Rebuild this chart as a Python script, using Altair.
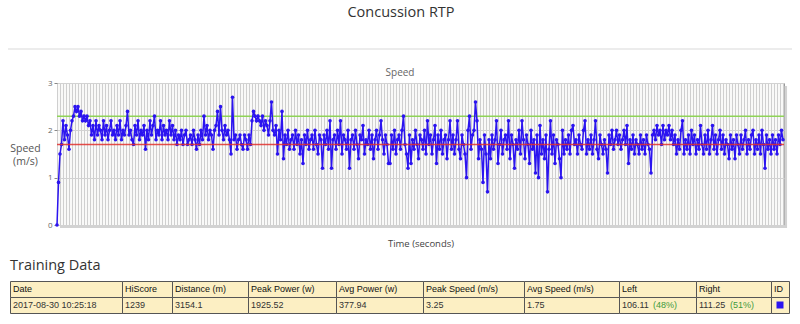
import altair as alt
import pandas as pd

# ---------------- data ----------------
speed = [
    0.0, 0.9, 1.5, 1.7, 2.2, 1.8, 2.1, 1.9, 1.6, 2.0,
    2.2, 2.3, 2.5, 2.4, 2.5, 2.3, 2.4, 2.2, 2.3, 2.2,
    2.3, 2.1, 2.2, 1.9, 2.1, 1.8, 2.2, 1.9, 2.1, 2.0,
    1.8, 2.2, 1.9, 2.1, 1.8, 2.0, 2.2, 1.9, 2.0, 1.8,
    2.1, 1.9, 2.2, 1.8, 2.0, 1.9, 2.1, 2.4, 1.9, 2.0,
    1.8, 1.7, 2.1, 1.9, 2.2, 1.8, 2.0, 1.9, 2.1, 1.6,
    2.0, 1.8, 2.2, 1.9, 2.1, 2.3, 1.8, 2.0, 1.9, 2.2,
    1.8, 2.1, 1.9, 2.0, 1.8, 2.2, 1.9, 2.1, 1.8, 2.0,
    1.7, 1.9, 1.8, 2.0, 1.7, 1.9, 2.0, 1.7, 1.8, 1.9,
    1.7, 2.0, 1.8, 1.6, 1.9, 1.7, 2.0, 1.8, 2.3, 1.9,
    2.1, 1.8, 2.0, 1.9, 1.6, 2.0, 2.1, 2.4, 1.9, 2.5,
    2.0, 1.8, 2.1, 1.9, 2.0, 1.8, 1.5, 2.7, 1.8, 1.9,
    1.6, 1.8, 1.9, 1.7, 1.6, 1.9, 1.8, 1.6, 1.9, 1.7,
    2.2, 2.4, 2.3, 2.2, 2.3, 2.2, 2.1, 2.3, 2.0, 2.2,
    2.1, 1.9, 2.2, 2.6, 2.0, 1.9, 2.1, 1.5, 2.0, 1.8,
    2.4, 1.4, 1.9, 1.7, 2.0, 1.6, 1.8, 1.9, 1.6, 2.0,
    1.7, 1.9, 1.5, 1.8, 1.3, 1.9, 1.7, 2.0, 1.6, 1.8,
    1.9, 1.6, 2.0, 1.7, 1.5, 1.9, 1.8, 1.2, 1.9, 1.7,
    2.0, 1.6, 2.2, 1.2, 1.8, 1.9, 1.6, 2.0, 1.7, 2.2,
    1.5, 1.9, 1.8, 1.6, 2.0, 1.2, 1.8, 1.9, 1.6, 2.0,
    1.7, 1.4, 1.9, 1.8, 2.1, 1.5, 1.8, 1.7, 2.0, 1.6,
    1.9, 1.4, 1.8, 2.0, 1.6, 1.9, 2.2, 1.8, 1.5, 1.9,
    1.7, 1.3, 1.3, 1.9, 1.6, 2.0, 1.5, 1.8, 1.9, 1.6,
    2.0, 2.3, 1.7, 1.5, 1.2, 1.9, 1.3, 1.8, 1.6, 2.0,
    1.7, 1.4, 1.9, 1.8, 1.6, 2.0, 1.5, 2.2, 1.7, 1.9,
    1.5, 1.8, 2.1, 1.3, 1.9, 1.6, 2.0, 1.5, 1.8, 1.9,
    1.4, 1.8, 2.2, 1.6, 1.9, 1.5, 1.8, 2.2, 1.6, 1.4,
    1.9, 1.7, 1.5, 1.0, 2.0, 2.3, 1.6, 1.9, 2.0, 2.6,
    2.2, 1.4, 1.8, 1.6, 0.9, 1.9, 1.5, 0.7, 1.8, 1.4,
    1.9, 1.6, 1.8, 2.2, 1.3, 1.7, 2.0, 1.5, 1.8, 1.9,
    1.6, 2.2, 1.4, 1.9, 1.7, 1.2, 1.8, 1.6, 2.0, 1.5,
    2.2, 1.8, 1.4, 1.9, 1.7, 1.3, 2.0, 1.6, 1.8, 1.1,
    1.9, 1.0, 2.1, 1.5, 1.8, 1.4, 1.9, 0.7, 1.6, 2.2,
    1.5, 1.9, 1.3, 1.8, 1.7, 1.4, 1.0, 2.0, 1.5, 1.8,
    1.6, 1.9, 1.5, 2.0, 2.1, 1.7, 1.8, 1.5, 1.9, 1.7,
    1.6, 2.0, 2.2, 1.5, 1.8, 1.6, 1.9, 1.5, 1.8, 2.2,
    1.6, 1.4, 1.9, 1.7, 1.5, 1.8, 1.6, 1.1, 1.9, 1.7,
    2.0, 1.6, 1.8, 2.0, 1.7, 1.9, 1.6, 1.8, 2.0, 1.7,
    2.1, 1.3, 1.8, 1.6, 1.9, 1.5, 1.8, 1.7, 1.5, 1.9,
    1.6, 1.8, 1.5, 1.9, 1.7, 1.6, 1.1, 1.9, 2.0, 1.8,
    2.1, 1.9, 2.0, 1.7, 2.1, 1.8, 2.0, 1.9, 2.1, 1.8,
    2.0, 1.7, 1.9, 1.5, 1.8, 1.6, 2.0, 2.2, 1.5, 1.8,
    1.6, 1.9, 1.5, 2.0, 1.7, 1.9, 1.5, 1.8, 1.6, 2.1,
    1.7, 1.5, 1.9, 1.6, 2.0, 1.5, 1.8, 2.1, 1.6, 1.9,
    1.5, 1.8, 2.0, 1.6, 1.9, 1.5, 1.8, 1.7, 1.4, 1.9,
    1.6, 1.8, 1.4, 1.9, 1.7, 1.5, 1.9, 1.6, 1.8, 2.0,
    1.5, 1.8, 1.6, 1.9, 2.0, 1.5, 1.8, 1.6, 1.9, 1.5,
    2.0, 1.7, 1.2, 1.9, 1.6, 1.8, 1.5, 1.9, 1.6, 1.8,
    1.5, 1.9, 1.7, 2.0, 1.8,
]
sample_seconds = 4
times = [i * sample_seconds for i in range(len(speed))]
upper_threshold = [2.3]
lower_threshold = [1.7]
y_ticks = [0, 0.5, 1, 1.5, 2, 2.5, 3]

table_headers = ["Date", "HiScore", "Distance (m)", "Peak Power (w)", "Avg Power (w)",
                 "Peak Speed (m/s)", "Avg Speed (m/s)", "Left", "Right", "ID"]
table_values = ["2017-08-30 10:25:18", "1239", "3154.1", "1925.52", "377.94",
                "3.25", "1.75", "106.11", "111.25", ""]
table_share = ["", "", "", "", "", "", "", "(48%)", "(51%)", ""]

# ---------------- layout (page pixels) ----------------
PL, PT, PW, PH = 57, 83, 727, 142
col_edges = [10, 122, 172, 248, 336, 423, 524, 619, 696, 771, 789]
row_edges = [281, 297, 313]
share_offset = 34
BLUE = "#2b14f0"
px_per_sample = 1.5
grid_px = 3

def rx(px):
    return px - PL

def ry(py):
    return py - PT

x_dom = PW * sample_seconds / px_per_sample
x_scale = alt.Scale(domain=[0, x_dom], nice=False, zero=False)
y_scale = alt.Scale(domain=[0, 3], nice=False, zero=False)
grid_step = grid_px * sample_seconds / px_per_sample
grid_vals = [k * grid_step for k in range(int(x_dom / grid_step) + 1)]

one = pd.DataFrame({"_": [0]})
df = pd.DataFrame({"t": times, "speed": speed})

line = alt.Chart(df).mark_line(
    color=BLUE, strokeWidth=1.5,
    point=alt.OverlayMarkDef(color=BLUE, filled=True, size=13, opacity=1),
).encode(
    x=alt.X("t:Q", scale=x_scale, axis=alt.Axis(
        values=grid_vals, labels=False, ticks=False, domain=False, grid=True,
        gridColor="#cfcfcf", gridWidth=1, title="Time (seconds)",
        titleFont="Open Sans", titleFontSize=9.5, titleFontWeight="normal",
        titleColor="#444", titlePadding=13)),
    y=alt.Y("speed:Q", scale=y_scale, axis=alt.Axis(
        values=y_ticks, format="~g", grid=True, gridColor="#d2d2d2",
        labelFont="Open Sans", labelFontSize=8, labelColor="#666",
        tickColor="#888", tickSize=3, labelPadding=2, domain=False,
        title=["Speed", "(m/s)"], titleFont="Open Sans", titleFontSize=10.5,
        titleLineHeight=13, titleFontWeight="normal", titleColor="#555", titleAngle=0,
        titleAlign="center", titleBaseline="middle", titleX=rx(25), titleY=65)),
)

green = alt.Chart(pd.DataFrame({"v": upper_threshold})).mark_rule(
    color="#8fd457", strokeWidth=1.5).encode(y=alt.Y("v:Q", scale=y_scale))
red = alt.Chart(pd.DataFrame({"v": lower_threshold})).mark_rule(
    color="#e2302b", strokeWidth=1.5, opacity=0.85).encode(y=alt.Y("v:Q", scale=y_scale))

shadow_r = alt.Chart(one).mark_rule(color="#d2d2d2", strokeWidth=2.5).encode(
    x=alt.value(PW + 1.8), y=alt.value(3), y2=alt.value(PH + 3))
shadow_b = alt.Chart(one).mark_rule(color="#d2d2d2", strokeWidth=2.5).encode(
    x=alt.value(3), x2=alt.value(PW + 3), y=alt.value(PH + 1.8))

separator = alt.Chart(one).mark_rule(color="#ececec", strokeWidth=2).encode(
    x=alt.value(rx(8)), x2=alt.value(rx(792)), y=alt.value(ry(49)))

title_main = alt.Chart(one).mark_text(
    text="Concussion RTP", font="Open Sans", fontSize=14.5, color="#333",
    align="center", baseline="middle").encode(x=alt.value(rx(401)), y=alt.value(ry(12.5)))
title_sub = alt.Chart(one).mark_text(
    text="Speed", font="Open Sans", fontSize=10, color="#666",
    align="center", baseline="middle").encode(x=alt.value(rx(400)), y=alt.value(ry(72.5)))
title_table = alt.Chart(one).mark_text(
    text="Training Data", font="Open Sans", fontSize=14.5, color="#333",
    align="left", baseline="middle").encode(x=alt.value(rx(10)), y=alt.value(ry(266)))

# table cells
cells = []
texts = []
for r, row in enumerate([table_headers, table_values]):
    for c, label in enumerate(row):
        cells.append({"x0": rx(col_edges[c]) + 0.5, "x1": rx(col_edges[c + 1]) + 0.5,
                      "y0": ry(row_edges[r]) + 0.5, "y1": ry(row_edges[r + 1]) + 0.5})
        texts.append({"x": rx(col_edges[c]) + 3, "y": ry((row_edges[r] + row_edges[r + 1]) / 2),
                      "label": label, "kind": "header" if r == 0 else "value"})
shares = [{"x": rx(col_edges[c]) + share_offset,
           "y": ry((row_edges[1] + row_edges[2]) / 2), "label": s}
          for c, s in enumerate(table_share) if s]
id_cell = [{"x": rx((col_edges[9] + col_edges[10]) / 2), "y": ry((row_edges[1] + row_edges[2]) / 2)}]

cell_layer = alt.Chart(pd.DataFrame(cells)).mark_rect(
    fill="#fcefc3", stroke="#555", strokeWidth=1).encode(
    x=alt.X("x0:Q", scale=None), x2="x1:Q",
    y=alt.Y("y0:Q", scale=None), y2="y1:Q")
text_layer = alt.Chart(pd.DataFrame(texts)).mark_text(
    align="left", baseline="middle", font="Liberation Sans", fontSize=9).encode(
    x=alt.X("x:Q", scale=None), y=alt.Y("y:Q", scale=None), text="label:N",
    color=alt.Color("kind:N", scale=alt.Scale(domain=["header", "value"], range=["#111", "#333"]), legend=None))
share_layer = alt.Chart(pd.DataFrame(shares)).mark_text(
    align="left", baseline="middle", font="Liberation Sans", fontSize=9, color="#3c9a3c").encode(
    x=alt.X("x:Q", scale=None), y=alt.Y("y:Q", scale=None), text="label:N")
id_layer = alt.Chart(pd.DataFrame(id_cell)).mark_point(
    shape="square", filled=True, size=49, color=BLUE, opacity=1).encode(
    x=alt.X("x:Q", scale=None), y=alt.Y("y:Q", scale=None))

chart = alt.layer(
    shadow_r, shadow_b, green, line, red, separator, title_main, title_sub, title_table,
    cell_layer, text_layer, share_layer, id_layer,
).properties(
    width=PW, height=PH,
    autosize=alt.AutoSizeParams(type="none"),
    padding={"left": PL, "top": PT, "right": 800 - PL - PW, "bottom": 324 - PT - PH},
    background="white",
).configure_view(stroke="#9a9a9a", strokeWidth=1, fill="#f9f9f8")

chart.save("out.html", embed_options={"renderer": "svg", "actions": False})
